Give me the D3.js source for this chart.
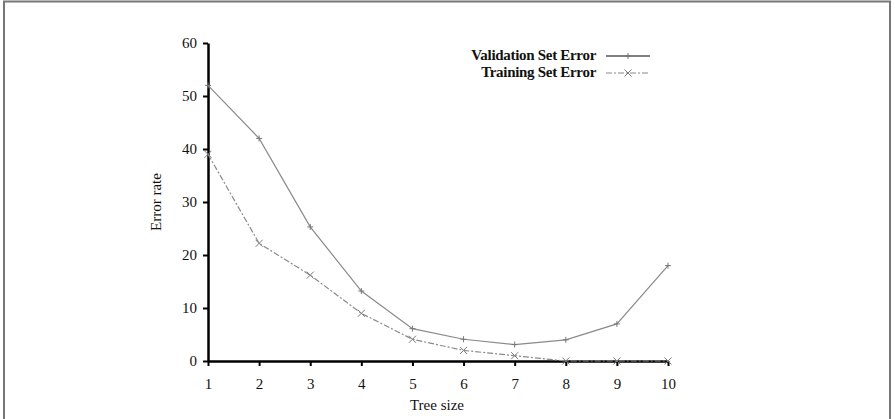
<!DOCTYPE html>
<html>
<head>
<meta charset="utf-8">
<script src="https://cdn.jsdelivr.net/npm/d3@7"></script>
<style>
  html, body { margin: 0; padding: 0; background: #fff; }
  svg { display: block; }
  text { font-family: "Liberation Serif", "DejaVu Serif", serif; fill: #111; }
</style>
</head>
<body>
<svg id="chart" width="895" height="419"></svg>
<script>
// Tree size on the x axis
const treeSizes = [1, 2, 3, 4, 5, 6, 7, 8, 9, 10];
// Error rate per tree size
const validationError = [52, 42, 25.3, 13.2, 6.1, 4.1, 3.1, 4, 7, 18];
const trainingError   = [39, 22.2, 16.2, 9, 4.1, 2, 1, 0, 0, 0];
const yTicks = [0, 10, 20, 30, 40, 50, 60];
const seriesNames = ["Validation Set Error", "Training Set Error"];

const svg = d3.select("#chart");

// outer frame
svg.append("rect")
  .attr("x", 4).attr("y", 1.5).attr("width", 886).attr("height", 430)
  .attr("fill", "none").attr("stroke", "#777").attr("stroke-width", 2);

const x = d3.scaleLinear().domain([1, 10]).range([208, 668]);
const y = d3.scaleLinear().domain([0, 60]).range([361, 43]);

// axes
const yAxis = svg.append("g").attr("transform", "translate(208,0)")
  .call(d3.axisLeft(y).tickValues(yTicks).tickSize(5).tickPadding(6).tickSizeOuter(0));
const xAxis = svg.append("g").attr("transform", "translate(0,361)")
  .call(d3.axisBottom(x).tickValues(treeSizes).tickSize(5).tickPadding(6).tickSizeOuter(0));

[xAxis, yAxis].forEach(g => {
  g.select(".domain").attr("stroke", "#000").attr("stroke-width", 2.5);
  g.selectAll(".tick line").attr("stroke", "#000").attr("stroke-width", 2);
  g.selectAll(".tick text")
    .attr("font-family", "Liberation Serif, serif")
    .attr("font-size", 15).attr("fill", "#111");
});
xAxis.selectAll(".tick text").attr("dy", "1.1em");

// axis titles
svg.append("text")
  .attr("x", 437).attr("y", 410).attr("text-anchor", "middle")
  .attr("font-size", 15).text("Tree size");
svg.append("text")
  .attr("transform", "translate(161,202) rotate(-90)")
  .attr("text-anchor", "middle").attr("font-size", 15).text("Error rate");

const lineGen = d3.line()
  .x((d, i) => x(treeSizes[i]))
  .y(d => y(d));

const lineColor = "#8a8a8a";

// validation curve with plus markers
svg.append("path")
  .datum(validationError)
  .attr("d", lineGen)
  .attr("fill", "none").attr("stroke", lineColor).attr("stroke-width", 1.2);

function plus(g, cx, cy, s) {
  g.append("path")
    .attr("d", `M${cx - s},${cy}H${cx + s}M${cx},${cy - s}V${cy + s}`)
    .attr("stroke", "#777").attr("stroke-width", 1).attr("fill", "none");
}
function cross(g, cx, cy, s) {
  g.append("path")
    .attr("d", `M${cx - s},${cy - s}L${cx + s},${cy + s}M${cx - s},${cy + s}L${cx + s},${cy - s}`)
    .attr("stroke", "#777").attr("stroke-width", 1).attr("fill", "none");
}

const markers = svg.append("g");
validationError.forEach((v, i) => plus(markers, x(treeSizes[i]), y(v), 3));

// training curve, dashed, with cross markers
svg.append("path")
  .datum(trainingError)
  .attr("d", lineGen)
  .attr("fill", "none").attr("stroke", lineColor).attr("stroke-width", 1.2)
  .attr("stroke-dasharray", "6,2,2,2");
trainingError.forEach((v, i) => cross(markers, x(treeSizes[i]), y(v), 3.5));

// legend
const legend = svg.append("g");
seriesNames.forEach((name, i) => {
  const ly = 60 + i * 17;
  legend.append("text")
    .attr("x", 596).attr("y", ly).attr("text-anchor", "end")
    .attr("font-size", 15).attr("font-weight", "bold")
    .attr("letter-spacing", -0.3)
    .text(name);
  const line = legend.append("line")
    .attr("x1", 606).attr("x2", 650).attr("y1", ly - 4).attr("y2", ly - 4)
    .attr("stroke", i === 0 ? "#000" : lineColor).attr("stroke-width", 1.2);
  if (i === 1) line.attr("stroke-dasharray", "6,2,2,2");
  if (i === 0) plus(legend, 628, ly - 4, 3); else cross(legend, 628, ly - 4, 3.5);
});
</script>
</body>
</html>
